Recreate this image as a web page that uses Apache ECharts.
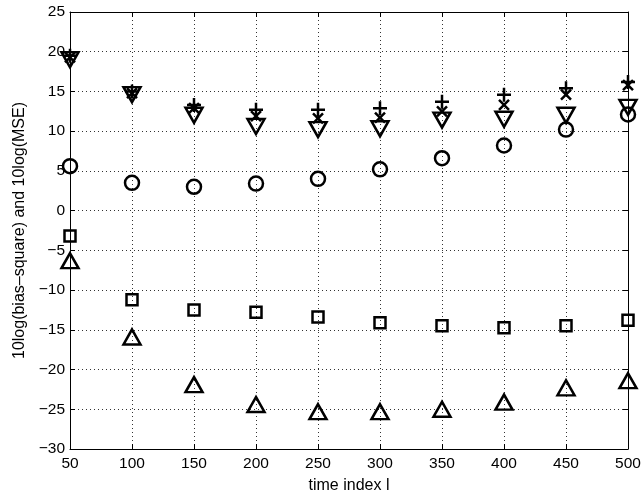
<!DOCTYPE html>
<html>
<head>
<meta charset="utf-8">
<script src="https://cdn.jsdelivr.net/npm/echarts@6/dist/echarts.min.js"></script>
<style>
  html, body { margin: 0; padding: 0; background: #fff; }
  #chart { width: 644px; height: 499px; }
</style>
</head>
<body>
<div id="chart"></div>
<script>
// time index l
const timeIndex = [50, 100, 150, 200, 250, 300, 350, 400, 450, 500];

// 10log values for each estimator (dB)
const plusVals   = [19.5, 15.0, 13.3, 12.7, 12.7, 12.9, 13.7, 14.6, 15.4, 16.2];
const crossVals  = [19.3, 14.8, 12.9, 11.9, 11.6, 11.7, 12.5, 13.3, 14.6, 15.8];
const triDnVals  = [19.0, 14.6, 12.0, 10.6, 10.2, 10.3, 11.4, 11.5, 12.0, 13.0];
const circleVals = [5.6, 3.5, 3.0, 3.4, 4.0, 5.2, 6.6, 8.2, 10.2, 12.1];
const squareVals = [-3.2, -11.2, -12.5, -12.8, -13.4, -14.1, -14.5, -14.75, -14.5, -13.8];
const triUpVals  = [-6.3, -15.9, -21.9, -24.4, -25.3, -25.3, -25.0, -24.1, -22.3, -21.4];

const FONT = 'Liberation Sans, Arial, Helvetica, sans-serif';
const TICK_FONT = 15.5;

function pairs(vals) {
  return timeIndex.map((t, i) => [t, vals[i]]);
}

function markerSeries(name, vals, symbol, size, rotate) {
  return {
    name: name,
    type: 'scatter',
    data: pairs(vals),
    symbol: symbol,
    symbolSize: size,
    symbolRotate: rotate || 0,
    itemStyle: { color: 'none', borderColor: '#000', borderWidth: 2.5, opacity: 1 },
    emphasis: { disabled: true },
    z: 5
  };
}

// stroke-only marker outlines
const PLUS = 'path://M0,7L14,7M7,0L7,14';
const CROSS = 'path://M0,0L10,10M0,10L10,0';

// unicode minus for negative tick values
const fmt = v => (v < 0 ? '\u2212' + Math.abs(v) : String(v));

const chart = echarts.init(document.getElementById('chart'), null, { renderer: 'canvas' });

const dotted = { show: true, lineStyle: { color: '#333', width: 1, type: [1, 3] } };
const frameLine = { show: true, onZero: false, lineStyle: { color: '#000', width: 1 } };
const inTick = { show: true, inside: true, length: 5, lineStyle: { color: '#000' } };

chart.setOption({
  animation: false,
  backgroundColor: '#fff',
  grid: { left: 70, right: 16, top: 12, bottom: 48, containLabel: false },
  xAxis: [
    {
      type: 'value', min: 50, max: 500, interval: 50,
      name: 'time index l', nameLocation: 'middle', nameGap: 29,
      nameTextStyle: { fontFamily: FONT, fontSize: 16, color: '#000' },
      axisLine: frameLine,
      axisTick: inTick,
      axisLabel: { fontFamily: FONT, fontSize: TICK_FONT, color: '#000', margin: 7, formatter: fmt },
      splitLine: dotted
    },
    {
      type: 'value', position: 'top', min: 50, max: 500, interval: 50,
      axisLine: frameLine,
      axisTick: inTick,
      axisLabel: { show: false },
      splitLine: { show: false }
    }
  ],
  yAxis: [
    {
      type: 'value', min: -30, max: 25, interval: 5,
      name: '10log(bias\u2013square) and 10log(MSE)', nameLocation: 'middle', nameGap: 42,
      nameTextStyle: { fontFamily: FONT, fontSize: 16, color: '#000' },
      axisLine: frameLine,
      axisTick: inTick,
      axisLabel: { fontFamily: FONT, fontSize: TICK_FONT, color: '#000', margin: 5, formatter: fmt },
      splitLine: dotted
    },
    {
      type: 'value', position: 'right', min: -30, max: 25, interval: 5,
      axisLine: frameLine,
      axisTick: inTick,
      axisLabel: { show: false },
      splitLine: { show: false }
    }
  ],
  series: [
    markerSeries('plus', plusVals, PLUS, 14),
    markerSeries('cross', crossVals, CROSS, 10),
    markerSeries('triangleDown', triDnVals, 'triangle', [17, 15], 180),
    markerSeries('circle', circleVals, 'circle', 14),
    markerSeries('square', squareVals, 'rect', 11),
    markerSeries('triangleUp', triUpVals, 'triangle', [17, 15])
  ]
});
</script>
</body>
</html>
